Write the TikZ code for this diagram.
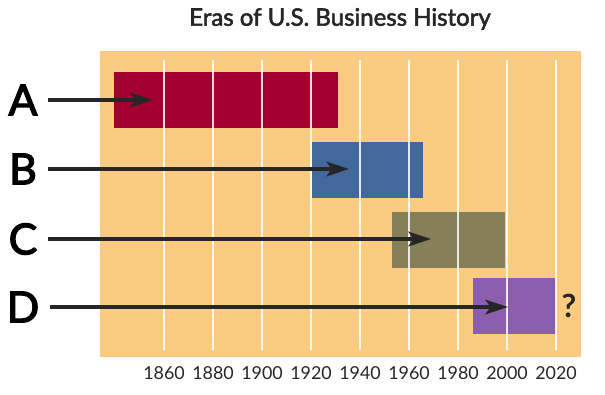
\documentclass[tikz,border=0pt]{standalone}
\usepackage{fontspec}
\setmainfont{Lato}
\newfontfamily\erasemi[FakeBold=2.2]{Lato}
\newfontfamily\eraheavy[FakeBold=3]{Lato}
\usetikzlibrary{arrows.meta}
\definecolor{eraback}{HTML}{FCCB82}
\definecolor{eraA}{HTML}{A3002F}
\definecolor{eraB}{HTML}{43699C}
\definecolor{eraC}{HTML}{868058}
\definecolor{eraD}{HTML}{8C5EAE}

\begin{document}
\begin{tikzpicture}[x=0.75pt, y=-0.75pt, >={Stealth[length=17pt, width=11pt, inset=4pt]},
	letter/.style={font=\fontsize{32}{32}\selectfont\eraheavy, inner sep=0pt},
	year/.style={font=\fontsize{13.4}{13.4}\selectfont, text=black!85},
	bar/.style={minimum height=42pt, inner sep=0pt},
	grid line/.style={white, opacity=0.85, line width=1.4pt},
	arr/.style={->, line width=2.5pt, black!85}]
	\useasboundingbox (0,0) rectangle (605,394);
	\node[font=\fontsize{18}{18}\selectfont\erasemi, text=black!85] (title) at (340,19) {Eras of U.S. Business History};
	\fill[eraback] (100,51) rectangle (581,357);
	\node[bar, fill=eraA, minimum width=168pt] (bA) at (226,100) {};
	\node[bar, fill=eraB, minimum width=83.25pt] (bB) at (367.5,170) {};
	\node[bar, fill=eraC, minimum width=84.75pt] (bC) at (448.5,239.5) {};
	\node[bar, fill=eraD, minimum width=62.25pt] (bD) at (514.5,305.5) {};
	\foreach \k/\yr in {0/1860,1/1880,2/1900,3/1920,4/1940,5/1960,6/1980,7/2000,8/2020} {\draw[grid line] (164+49*\k,60) -- (164+49*\k,350); \node[year] (y\yr) at (164+49*\k,373) {\yr};}
	\node[letter] (lA) at (23,100) {A};
	\node[letter] (lB) at (23,169) {B};
	\node[letter] (lC) at (23,239) {C};
	\node[letter] (lD) at (23,307) {D};
	\coordinate (tA) at (153,100);
	\coordinate (tB) at (349,169);
	\coordinate (tC) at (431,239);
	\coordinate (tD) at (508,307);
	\draw[arr] ([xshift=8pt]lA.east) -- (tA);
	\draw[arr] ([xshift=8pt]lB.east) -- (tB);
	\draw[arr] ([xshift=8pt]lC.east) -- (tC);
	\draw[arr] ([xshift=8pt]lD.east) -- (tD);
	\node[font=\fontsize{24}{24}\selectfont\bfseries, text=black!85] (qD) at (569,306) {?};
\end{tikzpicture}
\end{document}
